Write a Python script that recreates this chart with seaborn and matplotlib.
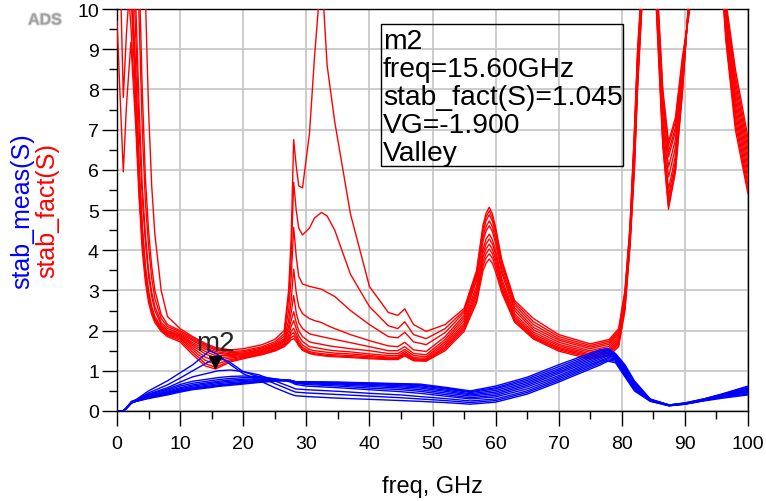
import matplotlib
matplotlib.use("Agg")
import matplotlib.pyplot as plt
import matplotlib.transforms as mtrans
import matplotlib.patheffects as pe
from matplotlib.patches import Rectangle
from matplotlib.ticker import MultipleLocator
import pandas as pd
import seaborn as sns

# ---------------- data ----------------
freq_fact = [0, 0.5, 1.0, 1.5, 2.2, 3.0, 3.5, 4.0, 4.5, 5.0, 5.5, 6.0, 7.0, 8.0,
             10, 12, 14, 15.6, 18, 20, 23, 25, 26.5,
             27.2, 27.6, 28.0, 28.4, 28.8, 29.4,
             30.5, 31.3, 32.4, 33.3, 34.5, 37, 40, 43, 44.5, 45.6, 47, 49,
             52, 55, 57, 58, 58.5, 59, 59.5, 60, 61, 63, 66, 70, 75, 78, 79.5,
             80.5, 81.3, 82.0, 82.5, 84.5, 85.5, 86.5, 87.4, 88.5, 89.6, 90.7, 91.5, 95.5, 96.5, 98, 100]

fact_01 = [15, 15, 15, 15, 15, 15, 14, 12, 10.3, 7.5, 5.6, 4.4, 3.0, 2.35,
           2.05, 1.85, 1.68, 1.58, 1.52, 1.55, 1.65, 1.78, 2.0,
           3.0, 4.3, 6.75, 6.1, 5.6, 5.55,
           6.9, 8.8, 11.0, 8.6, 7.2, 4.9, 3.1, 2.45, 2.38, 2.54, 2.15, 1.98,
           2.15, 2.55, 3.5, 4.62, 4.92, 5.07, 4.9, 4.57, 3.75, 2.75, 2.3, 1.9, 1.67, 1.78, 2.05,
           3.0, 4.6, 7.0, 9.0, 14, 10.9, 8.0, 6.69, 7.3, 8.8, 9.9, 13, 13, 10.2, 8.5, 6.8]
fact_02 = [15, 15, 15, 15, 15, 13, 11, 8.0, 5.8, 4.5, 3.6, 3.0, 2.4, 2.15,
           2.0, 1.82, 1.65, 1.55, 1.48, 1.5, 1.6, 1.72, 1.92,
           2.8, 3.8, 5.69, 5.0, 4.55, 4.38,
           4.55, 4.8, 4.94, 4.85, 4.5, 3.4, 2.6, 2.12, 2.05, 2.22, 1.9, 1.8,
           2.05, 2.5, 3.45, 4.54, 4.83, 4.98, 4.81, 4.49, 3.68, 2.7, 2.22, 1.85, 1.63, 1.74, 2.0,
           2.95, 4.55, 6.9, 8.9, 14, 10.8, 7.9, 6.6, 7.2, 8.7, 10.0, 13, 13, 10.1, 8.35, 6.65]
fact_03 = [15, 15, 15, 15, 14, 12, 9.8, 7.0, 5.2, 4.1, 3.3, 2.8, 2.3, 2.1,
           1.97, 1.78, 1.62, 1.52, 1.45, 1.47, 1.57, 1.68, 1.86,
           2.5, 3.3, 4.57, 3.85, 3.35, 3.16,
           3.1, 3.07, 3.03, 2.95, 2.85, 2.5, 2.15, 1.85, 1.82, 1.96, 1.72, 1.65,
           1.95, 2.45, 3.4, 4.45, 4.74, 4.88, 4.72, 4.41, 3.6, 2.64, 2.15, 1.8, 1.59, 1.7, 1.96,
           2.9, 4.5, 6.8, 8.8, 14, 10.7, 7.75, 6.45, 7.05, 8.6, 10.05, 13, 13, 10.0, 8.2, 6.5]
fact_04 = [15, 15, 15, 15, 13, 10, 7.6, 5.6, 4.4, 3.5, 2.95, 2.6, 2.2, 2.05,
           1.93, 1.75, 1.58, 1.48, 1.42, 1.44, 1.54, 1.65, 1.8,
           2.25, 2.75, 3.53, 2.95, 2.6, 2.42,
           2.3, 2.25, 2.2, 2.13, 2.05, 1.9, 1.75, 1.62, 1.6, 1.71, 1.52, 1.48,
           1.85, 2.38, 3.32, 4.32, 4.59, 4.73, 4.58, 4.28, 3.5, 2.57, 2.08, 1.76, 1.55, 1.66, 1.92,
           2.85, 4.45, 6.7, 8.7, 14, 10.6, 7.6, 6.32, 6.95, 8.5, 10.1, 13, 12.8, 9.9, 8.05, 6.35]
fact_05 = [15, 15, 15, 15, 12.5, 9.2, 7.0, 5.3, 4.2, 3.35, 2.85, 2.5, 2.15, 2.0,
           1.9, 1.7, 1.54, 1.44, 1.4, 1.42, 1.52, 1.62, 1.76,
           2.1, 2.45, 2.87, 2.45, 2.2, 2.05,
           1.92, 1.89, 1.85, 1.82, 1.78, 1.7, 1.6, 1.5, 1.5, 1.6, 1.43, 1.4,
           1.78, 2.32, 3.25, 4.22, 4.48, 4.61, 4.46, 4.17, 3.42, 2.5, 2.02, 1.71, 1.5, 1.61, 1.87,
           2.8, 4.4, 6.6, 8.6, 14, 10.5, 7.4, 6.07, 6.75, 8.4, 10.15, 13, 12.6, 9.8, 7.9, 6.2]
fact_06 = [15, 15, 15, 14, 11, 8.0, 6.0, 4.6, 3.6, 3.0, 2.6, 2.35, 2.1, 1.98,
           1.88, 1.66, 1.48, 1.38, 1.38, 1.4, 1.5, 1.6, 1.73,
           2.0, 2.25, 2.47, 2.2, 2.0, 1.85,
           1.72, 1.69, 1.66, 1.63, 1.6, 1.55, 1.5, 1.43, 1.43, 1.53, 1.38, 1.35,
           1.72, 2.25, 3.12, 4.03, 4.28, 4.40, 4.26, 3.99, 3.28, 2.42, 1.96, 1.66, 1.46, 1.56, 1.82,
           2.75, 4.35, 6.5, 8.5, 14, 10.4, 7.2, 5.82, 6.55, 8.3, 10.2, 13, 12.4, 9.7, 7.75, 6.05]
fact_07 = [15, 15, 15, 13, 10.5, 7.6, 5.7, 4.4, 3.5, 2.9, 2.55, 2.3, 2.07, 1.95,
           1.86, 1.62, 1.42, 1.32, 1.35, 1.38, 1.48, 1.58, 1.7,
           1.9, 2.1, 2.25, 2.05, 1.87, 1.73,
           1.6, 1.58, 1.55, 1.52, 1.5, 1.47, 1.42, 1.38, 1.38, 1.48, 1.33, 1.31,
           1.67, 2.18, 3.03, 3.93, 4.16, 4.28, 4.15, 3.89, 3.2, 2.36, 1.91, 1.62, 1.42, 1.52, 1.77,
           2.7, 4.3, 6.4, 8.4, 14, 10.3, 7.0, 5.52, 6.35, 8.2, 10.25, 13, 12.2, 9.6, 7.6, 5.9]
fact_08 = [15, 15, 13, 11, 9.6, 7.2, 5.5, 4.2, 3.4, 2.85, 2.5, 2.28, 2.05, 1.93,
           1.83, 1.57, 1.34, 1.24, 1.32, 1.36, 1.46, 1.55, 1.67,
           1.83, 1.98, 2.06, 1.92, 1.77, 1.64,
           1.53, 1.5, 1.48, 1.46, 1.44, 1.42, 1.38, 1.34, 1.34, 1.44, 1.3, 1.28,
           1.62, 2.13, 2.95, 3.82, 4.04, 4.15, 4.02, 3.78, 3.12, 2.31, 1.87, 1.58, 1.39, 1.48, 1.73,
           2.65, 4.25, 6.3, 8.3, 14, 10.2, 6.85, 5.35, 6.2, 8.1, 10.3, 13, 12.0, 9.5, 7.45, 5.75]
fact_09 = [15, 14, 12, 11, 10.8, 8.0, 6.0, 4.5, 3.5, 2.9, 2.5, 2.27, 2.03, 1.9,
           1.8, 1.52, 1.26, 1.16, 1.28, 1.34, 1.44, 1.53, 1.64,
           1.78, 1.9, 1.95, 1.84, 1.7, 1.58,
           1.48, 1.45, 1.43, 1.41, 1.4, 1.38, 1.35, 1.32, 1.32, 1.42, 1.28, 1.26,
           1.58, 2.08, 2.87, 3.71, 3.92, 4.03, 3.91, 3.68, 3.05, 2.26, 1.84, 1.55, 1.36, 1.45, 1.69,
           2.6, 4.2, 6.2, 8.2, 14, 10.1, 6.75, 5.2, 6.1, 8.0, 10.35, 13, 11.8, 9.4, 7.3, 5.6]
fact_10 = [15, 11, 7.8, 9.4, 11, 8.4, 6.0, 4.5, 3.5, 2.9, 2.5, 2.25, 2.0, 1.88,
           1.76, 1.46, 1.18, 1.09, 1.25, 1.32, 1.42, 1.51, 1.62,
           1.74, 1.83, 1.87, 1.78, 1.66, 1.54,
           1.45, 1.42, 1.4, 1.38, 1.37, 1.35, 1.32, 1.3, 1.3, 1.39, 1.26, 1.25,
           1.54, 2.03, 2.78, 3.61, 3.81, 3.91, 3.80, 3.57, 2.99, 2.22, 1.81, 1.52, 1.33, 1.41, 1.65,
           2.55, 4.15, 6.1, 8.1, 14, 10.0, 6.65, 5.1, 6.0, 7.95, 10.4, 13, 11.6, 9.3, 7.15, 5.5]
fact_11 = [9.7, 7.8, 5.95, 7.6, 9.17, 7.0, 5.3, 4.0, 3.2, 2.7, 2.4, 2.2, 1.98, 1.85,
           1.72, 1.40, 1.12, 1.045, 1.22, 1.30, 1.40, 1.49, 1.60,
           1.7, 1.77, 1.8, 1.73, 1.62, 1.51,
           1.43, 1.4, 1.38, 1.36, 1.35, 1.33, 1.3, 1.28, 1.28, 1.37, 1.25, 1.24,
           1.5, 1.98, 2.7, 3.49, 3.68, 3.78, 3.67, 3.46, 2.93, 2.22, 1.79, 1.49, 1.29, 1.38, 1.6,
           2.5, 4.1, 6.0, 8.0, 14, 9.9, 6.6, 5.02, 5.95, 7.9, 10.45, 13, 11.4, 9.2, 7.0, 5.4]

freq_meas = [0, 1.0, 1.5, 2.3, 3, 5, 8, 10, 12, 14.7, 16, 18, 20, 22.5, 25, 27.5, 28.3,
             30, 35, 40, 45, 48, 52, 56, 60, 65, 70, 74, 76.5, 77.8, 79, 80.5, 82,
             84.5, 87.5, 90, 93, 96, 100]

meas_01 = [0, 0, 0.08, 0.24, 0.28, 0.5, 0.75, 0.95, 1.15, 1.5, 1.4, 1.15, 0.93, 0.76, 0.58, 0.42, 0.38,
           0.36, 0.32, 0.29, 0.26, 0.24, 0.21, 0.17, 0.22, 0.42, 0.72, 0.98, 1.14, 1.24, 1.2, 0.85, 0.5,
           0.24, 0.13, 0.17, 0.25, 0.32, 0.40]
meas_02 = [0, 0, 0.08, 0.23, 0.27, 0.45, 0.65, 0.82, 1.0, 1.24, 1.34, 1.2, 0.98, 0.85, 0.68, 0.52, 0.47,
           0.45, 0.41, 0.37, 0.33, 0.3, 0.26, 0.21, 0.26, 0.46, 0.76, 1.02, 1.18, 1.27, 1.24, 0.88, 0.53,
           0.25, 0.13, 0.17, 0.26, 0.34, 0.42]
meas_03 = [0, 0, 0.08, 0.23, 0.27, 0.42, 0.58, 0.72, 0.85, 0.95, 1.0, 1.02, 0.98, 0.9, 0.75, 0.6, 0.55,
           0.53, 0.49, 0.44, 0.4, 0.36, 0.31, 0.25, 0.3, 0.5, 0.8, 1.06, 1.22, 1.3, 1.27, 0.91, 0.55,
           0.25, 0.13, 0.17, 0.26, 0.35, 0.45]
meas_04 = [0, 0, 0.07, 0.22, 0.26, 0.4, 0.55, 0.66, 0.74, 0.8, 0.83, 0.86, 0.87, 0.86, 0.8, 0.72, 0.66,
           0.62, 0.58, 0.53, 0.48, 0.44, 0.37, 0.3, 0.35, 0.55, 0.84, 1.1, 1.25, 1.33, 1.3, 0.94, 0.58,
           0.26, 0.14, 0.18, 0.27, 0.36, 0.47]
meas_05 = [0, 0, 0.07, 0.22, 0.26, 0.38, 0.52, 0.62, 0.69, 0.75, 0.78, 0.81, 0.83, 0.83, 0.8, 0.75, 0.69,
           0.66, 0.62, 0.57, 0.53, 0.49, 0.41, 0.33, 0.39, 0.6, 0.88, 1.14, 1.29, 1.37, 1.32, 0.97, 0.6,
           0.26, 0.14, 0.18, 0.27, 0.37, 0.49]
meas_06 = [0, 0, 0.07, 0.21, 0.25, 0.36, 0.49, 0.58, 0.65, 0.71, 0.74, 0.77, 0.79, 0.8, 0.79, 0.76, 0.7,
           0.68, 0.65, 0.61, 0.57, 0.53, 0.45, 0.37, 0.43, 0.64, 0.93, 1.18, 1.33, 1.4, 1.34, 1.0, 0.63,
           0.27, 0.14, 0.18, 0.28, 0.38, 0.51]
meas_07 = [0, 0, 0.07, 0.21, 0.25, 0.35, 0.47, 0.55, 0.62, 0.68, 0.71, 0.74, 0.76, 0.78, 0.78, 0.76, 0.71,
           0.7, 0.67, 0.64, 0.6, 0.57, 0.49, 0.4, 0.47, 0.68, 0.97, 1.22, 1.37, 1.44, 1.36, 1.03, 0.65,
           0.27, 0.14, 0.19, 0.28, 0.39, 0.53]
meas_08 = [0, 0, 0.07, 0.2, 0.24, 0.34, 0.45, 0.53, 0.59, 0.65, 0.68, 0.71, 0.73, 0.76, 0.77, 0.76, 0.72,
           0.71, 0.69, 0.66, 0.63, 0.6, 0.52, 0.43, 0.51, 0.72, 1.01, 1.26, 1.41, 1.47, 1.38, 1.06, 0.68,
           0.28, 0.15, 0.19, 0.29, 0.4, 0.55]
meas_09 = [0, 0, 0.07, 0.2, 0.24, 0.33, 0.43, 0.51, 0.57, 0.62, 0.65, 0.68, 0.71, 0.74, 0.76, 0.76, 0.72,
           0.72, 0.7, 0.68, 0.65, 0.63, 0.55, 0.46, 0.55, 0.76, 1.05, 1.3, 1.45, 1.5, 1.4, 1.09, 0.7,
           0.28, 0.15, 0.19, 0.29, 0.41, 0.57]
meas_10 = [0, 0, 0.07, 0.2, 0.24, 0.32, 0.42, 0.49, 0.55, 0.6, 0.63, 0.66, 0.69, 0.72, 0.75, 0.76, 0.73,
           0.72, 0.71, 0.69, 0.67, 0.65, 0.57, 0.48, 0.58, 0.8, 1.1, 1.34, 1.49, 1.53, 1.41, 1.12, 0.73,
           0.29, 0.15, 0.2, 0.3, 0.42, 0.6]
meas_11 = [0, 0, 0.07, 0.2, 0.24, 0.31, 0.4, 0.47, 0.53, 0.58, 0.61, 0.64, 0.67, 0.71, 0.74, 0.76, 0.73,
           0.73, 0.72, 0.7, 0.68, 0.67, 0.59, 0.5, 0.62, 0.84, 1.15, 1.38, 1.52, 1.56, 1.43, 1.15, 0.75,
           0.3, 0.15, 0.2, 0.3, 0.43, 0.62]

fact_series = [fact_01, fact_02, fact_03, fact_04, fact_05, fact_06,
               fact_07, fact_08, fact_09, fact_10, fact_11]
meas_series = [meas_01, meas_02, meas_03, meas_04, meas_05, meas_06,
               meas_07, meas_08, meas_09, meas_10, meas_11]

marker_name = "m2"
marker_freq = 15.60
marker_value = 1.045
marker_vg = -1.900
marker_kind = "Valley"

x_ticks = list(range(0, 101, 10))
y_ticks = list(range(0, 11, 1))

# ---------------- figure ----------------
sns.set_theme(style="white")
plt.rcParams["font.family"] = ["Liberation Sans", "DejaVu Sans"]

W, H = 766, 502
fig = plt.figure(figsize=(W / 100, H / 100), dpi=100)
L, R, T, B = 117, 748, 10, 412
ax = fig.add_axes([L / W, 1 - B / H, (R - L) / W, (B - T) / H])

df_fact = pd.concat([pd.DataFrame({"freq": freq_fact, "value": s, "curve": f"f{i}"})
                     for i, s in enumerate(fact_series)], ignore_index=True)
df_meas = pd.concat([pd.DataFrame({"freq": freq_meas, "value": s, "curve": f"m{i}"})
                     for i, s in enumerate(meas_series)], ignore_index=True)

sns.lineplot(data=df_fact, x="freq", y="value", hue="curve",
             palette=["#ff0000"] * len(fact_series), estimator=None, sort=False,
             legend=False, linewidth=1.0, ax=ax, zorder=3)
sns.lineplot(data=df_meas, x="freq", y="value", hue="curve",
             palette=["#0000ff"] * len(meas_series), estimator=None, sort=False,
             legend=False, linewidth=1.0, ax=ax, zorder=3)

ax.set_xlim(0, 100)
ax.set_ylim(0, 10)
ax.set_xticks(x_ticks)
ax.set_yticks(y_ticks)
ax.xaxis.set_minor_locator(MultipleLocator(5))
ax.yaxis.set_minor_locator(MultipleLocator(0.5))
ax.set_xlabel("")
ax.set_ylabel("")
ax.grid(True, which="major", color="#c8c8c8", linewidth=1.3)
ax.set_axisbelow(True)
for sp in ax.spines.values():
    sp.set_color("black")
    sp.set_linewidth(1.0)
ax.tick_params(which="both", bottom=True, left=True, direction="out", color="black", width=1.0)
ax.tick_params(axis="both", which="major", length=11, labelsize=14, labelcolor="black")
ax.tick_params(axis="both", which="minor", length=5.5)
ax.tick_params(axis="y", which="major", pad=2)
ax.tick_params(axis="x", which="major", pad=6)

# marker
trans = mtrans.offset_copy(ax.transData, fig=fig, x=0, y=5, units="points")
ax.plot([marker_freq], [marker_value], marker="v", color="black", markersize=9,
        transform=trans, zorder=6, linestyle="none")
ax.annotate(marker_name, xy=(marker_freq, marker_value), xytext=(0, 19),
            textcoords="offset points", ha="center", va="center", fontsize=20, zorder=7)

# marker readout box
ax.add_patch(Rectangle((0.4184, 0.6095), 0.3835, 0.3532, transform=ax.transAxes,
                       facecolor="none", edgecolor="black", linewidth=1.0, zorder=6))
box_lines = [marker_name,
             f"freq={marker_freq:.2f}GHz",
             f"stab_fact(S)={marker_value:.3f}",
             f"VG={marker_vg:.3f}",
             marker_kind]
for txt, yb in zip(box_lines, [0.903, 0.833, 0.7637, 0.694, 0.6244]):
    ax.text(0.4216, yb, txt, transform=ax.transAxes, ha="left", va="baseline",
            fontsize=20.3, color="black", zorder=7)

# axis titles
fig.text(432 / W, 1 - 487 / H, "freq, GHz", ha="center", va="center", fontsize=17, color="black")
fig.text(22 / W, 1 - 211 / H, "stab_meas(S)", rotation=90, ha="center", va="center",
         fontsize=18, color="#0000ff")
fig.text(47 / W, 1 - 211 / H, "stab_fact(S)", rotation=90, ha="center", va="center",
         fontsize=18, color="#ff0000")
fig.text(45 / W, 1 - 21 / H, "ADS", ha="center", va="center", fontsize=11.5,
         fontweight="bold", color="#a0a0a0",
         path_effects=[pe.withStroke(linewidth=1.5, foreground="#dcdcdc")])

fig.savefig("out.png", dpi=100)
